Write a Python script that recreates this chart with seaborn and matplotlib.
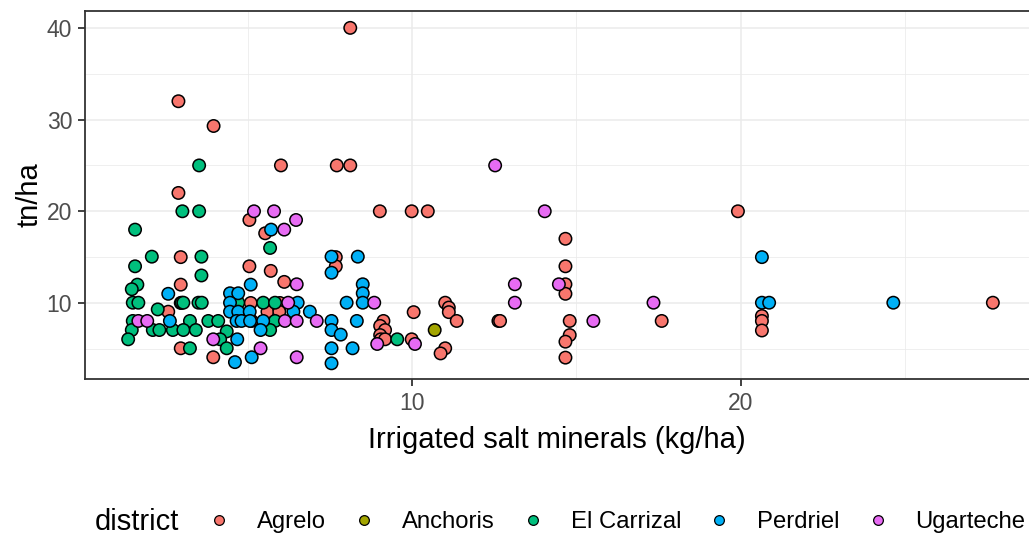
import pandas as pd
import matplotlib.pyplot as plt
import seaborn as sns
from matplotlib.lines import Line2D
from matplotlib.ticker import MultipleLocator

# values, one pair of lists per district
agrelo_x = [8.12, 2.89, 3.96, 6.01, 7.71, 8.12, 2.89, 9.02, 9.99, 10.48, 19.92, 5.05, 5.53, 2.96, 7.68,
            7.68, 5.05, 5.70, 2.96, 6.11, 2.96, 5.09, 5.98, 2.58, 5.60, 5.96, 5.96, 10.05, 5.12, 9.13,
            9.03, 9.18, 9.03, 9.05, 9.18, 9.99, 2.96, 3.95, 14.67, 14.67, 14.67, 14.67, 11.01, 11.12,
            11.12, 11.36, 12.63, 12.68, 14.80, 17.60, 14.80, 14.67, 14.67, 11.01, 10.87, 20.65, 20.65,
            20.65, 27.68]
agrelo_y = [40.0, 32.0, 29.3, 25.0, 25.0, 25.0, 22.0, 20.0, 20.0, 20.0, 20.0, 19.05, 17.6, 15.0, 15.0,
            14.0, 14.0, 13.5, 12.0, 12.3, 10.0, 10.0, 10.0, 9.05, 9.05, 9.4, 9.05, 9.0, 8.04, 8.04,
            7.5, 7.05, 6.5, 6.04, 6.04, 6.04, 5.06, 4.08, 17.0, 14.0, 12.04, 11.0, 10.03, 9.5,
            9.0, 8.04, 8.04, 8.04, 8.04, 8.04, 6.5, 5.78, 4.04, 5.06, 4.5, 8.58, 8.04,
            7.0, 10.03]

anchoris_x = [10.69]
anchoris_y = [7.05]

carrizal_x = [3.52, 3.01, 3.52, 1.57, 5.68, 2.08, 3.59, 1.57, 3.59, 1.64, 1.47, 1.50, 1.67, 2.99, 3.04,
              3.50, 3.60, 4.71, 5.47, 5.83, 2.26, 1.50, 3.24, 3.80, 4.10, 5.83, 1.47, 2.11, 2.31, 2.72,
              3.04, 3.42, 4.36, 5.68, 1.36, 4.16, 9.55, 3.24, 4.36]
carrizal_y = [25.0, 20.0, 20.0, 18.0, 16.0, 15.05, 15.05, 14.0, 13.0, 12.0, 11.5, 10.03, 10.03, 10.03, 10.03,
              10.03, 10.03, 10.03, 10.03, 10.03, 9.3, 8.04, 8.04, 8.04, 8.04, 8.04, 7.05, 7.05, 7.05, 7.05,
              7.05, 7.05, 6.9, 7.05, 6.04, 6.04, 6.04, 5.06, 5.06]

perdriel_x = [5.71, 7.55, 8.35, 7.55, 2.58, 5.09, 8.50, 8.50, 4.46, 4.71, 4.46, 6.52, 8.01, 8.50, 4.46,
              4.71, 5.06, 6.39, 6.89, 2.63, 4.66, 4.81, 5.07, 5.47, 7.55, 8.32, 5.39, 7.55, 7.83, 4.68,
              7.55, 8.19, 5.12, 4.61, 7.55, 20.65, 20.65, 20.87, 24.65]
perdriel_y = [18.0, 15.05, 15.05, 13.3, 11.0, 12.0, 12.04, 11.06, 11.06, 11.06, 10.03, 10.03, 10.03, 10.03, 9.05,
              9.05, 9.05, 9.05, 9.05, 8.04, 8.04, 8.04, 8.04, 8.04, 8.04, 8.04, 7.05, 7.05, 6.55, 6.04,
              5.06, 5.06, 4.08, 3.55, 3.42, 15.0, 10.03, 10.03, 10.03]

ugarteche_x = [12.53, 14.04, 5.19, 5.80, 6.47, 6.11, 6.49, 13.13, 14.47, 13.13, 17.35, 6.23, 8.85, 1.67,
               1.94, 6.13, 6.49, 7.10, 15.52, 3.95, 8.94, 10.09, 5.39, 6.49]
ugarteche_y = [25.0, 20.0, 20.0, 20.0, 19.05, 18.0, 12.04, 12.04, 12.04, 10.03, 10.03, 10.03, 10.03, 8.04,
               8.04, 8.04, 8.04, 8.04, 8.04, 6.04, 5.53, 5.53, 5.06, 4.08]

districts = ["Agrelo", "Anchoris", "El Carrizal", "Perdriel", "Ugarteche"]
colors = ["#F8766D", "#A3A500", "#00BF7D", "#00B0F6", "#E76BF3"]

xs = [agrelo_x, anchoris_x, carrizal_x, perdriel_x, ugarteche_x]
ys = [agrelo_y, anchoris_y, carrizal_y, perdriel_y, ugarteche_y]
df = pd.concat([pd.DataFrame({"salt": x, "yield": y, "district": d}) for x, y, d in zip(xs, ys, districts)],
               ignore_index=True)

plt.rcParams['font.family'] = ['Liberation Sans', 'DejaVu Sans']

fig = plt.figure(figsize=(10.29, 5.36), dpi=100)
ax = fig.add_axes([85 / 1029, 1 - 379 / 536, 1 - 85 / 1029, (379 - 11) / 536])

sns.scatterplot(data=df, x="salt", y="yield", hue="district", hue_order=districts,
                palette=colors, s=80, edgecolor="black", linewidth=1.1, alpha=1,
                legend=False, ax=ax, zorder=3)

ax.set_xlim(0.046, 28.78)
ax.set_ylim(1.71, 41.84)
ax.xaxis.set_major_locator(MultipleLocator(10))
ax.xaxis.set_minor_locator(MultipleLocator(5))
ax.yaxis.set_major_locator(MultipleLocator(10))
ax.yaxis.set_minor_locator(MultipleLocator(5))
ax.grid(which="major", color="#EBEBEB", linewidth=1.1, zorder=0)
ax.grid(which="minor", color="#EBEBEB", linewidth=0.55, zorder=0)
ax.set_axisbelow(True)
ax.tick_params(which="major", length=5.2, width=1.3, color="#333333", labelsize=16.5,
               labelcolor="#4D4D4D", pad=4)
ax.tick_params(which="minor", length=0)
for side in ["left", "bottom", "top"]:
    ax.spines[side].set_color("#333333")
    ax.spines[side].set_linewidth(1.3)
ax.spines["right"].set_visible(False)

ax.set_xlabel("Irrigated salt minerals (kg/ha)", fontsize=21, labelpad=8)
ax.set_ylabel("tn/ha", fontsize=21, labelpad=2)

handles = [Line2D([], [], marker="o", linestyle="none", markersize=7, markerfacecolor=c,
                  markeredgecolor="black", markeredgewidth=0.9) for c in colors]
fig.legend(handles, districts, loc="center left", bbox_to_anchor=(207 / 1029, 1 - 522 / 536),
           ncol=5, frameon=False, fontsize=17.2, handlelength=1, handletextpad=1.09,
           columnspacing=1.09, borderpad=0, borderaxespad=0)
fig.text(95 / 1029, 1 - 522 / 536, "district", fontsize=21, va="center", ha="left")

fig.savefig("out.png", dpi=100)
